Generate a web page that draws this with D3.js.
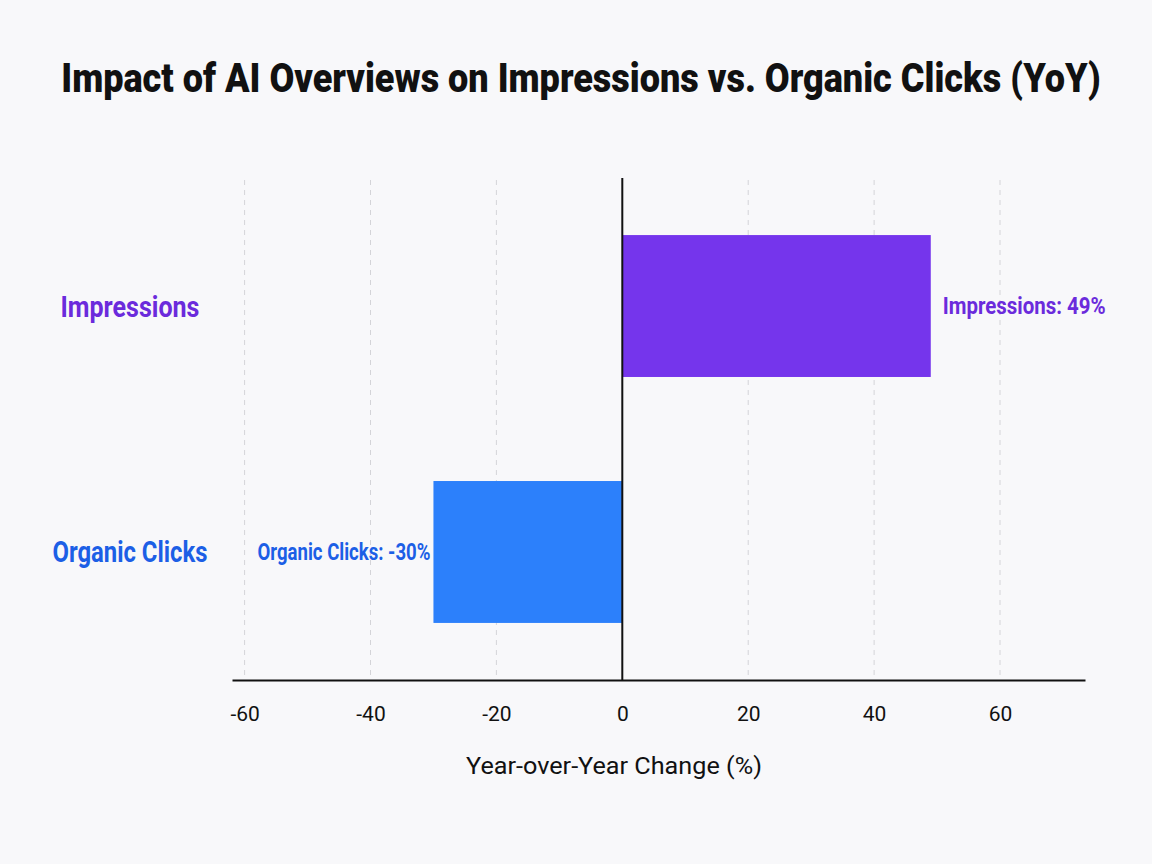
<!DOCTYPE html>
<html lang="en">
<head>
<meta charset="UTF-8" />
<title>Impact of AI Overviews on Impressions vs. Organic Clicks (YoY)</title>
<script src="https://d3js.org/d3.v7.min.js"></script>
<style>
    body { margin: 0; background: #f8f8fa; font-family: Roboto, "Noto Sans", sans-serif; }
    svg { display: block; }
</style>
</head>
<body>
<div id="chart"></div>
<script>
    const categories = ["Impressions", "Organic Clicks"];
    const values = [49, -30];
    const ticks = [-60, -40, -20, 0, 20, 40, 60];
    const barColors = ["#7535ec", "#2c80fb"];
    const textColors = ["#6b2bdc", "#1c5fe6"];

    const W = 1152, H = 864;
    const svg = d3.select("#chart").append("svg")
        .attr("width", W).attr("height", H);

    svg.append("rect").attr("width", W).attr("height", H).attr("fill", "#f8f8fa");

    const x = d3.scaleLinear().domain([-62, 73.5]).range([232, 1085]);
    const y = d3.scaleBand().domain(categories).range([178, 680])
        .paddingInner(0.423).paddingOuter(0.232);

    // fit a text horizontally into a given width
    function fitWidth(sel, width) {
        sel.each(function () {
            const w = this.getComputedTextLength();
            const t = d3.select(this);
            const ax = +t.attr("x"), ay = +t.attr("y");
            t.attr("transform", `translate(${ax},${ay}) scale(${width / w},1) translate(${-ax},${-ay})`);
        });
    }

    // titre
    svg.append("text")
        .attr("x", 581).attr("y", 92)
        .attr("text-anchor", "middle")
        .style("font-size", "40px").style("font-weight", "900").style("fill", "#111")
        .text("Impact of AI Overviews on Impressions vs. Organic Clicks (YoY)")
        .call(fitWidth, 1040);

    // grille
    svg.append("g").selectAll("line")
        .data(ticks.filter(t => t !== 0))
        .join("line")
        .attr("x1", d => x(d)).attr("x2", d => x(d))
        .attr("y1", 180).attr("y2", 680)
        .attr("stroke", "#d4d4d8").attr("stroke-width", 1)
        .attr("stroke-dasharray", "5,5");

    // barres
    svg.append("g").selectAll("rect")
        .data(categories)
        .join("rect")
        .attr("x", (d, i) => Math.min(x(0), x(values[i])))
        .attr("y", d => y(d))
        .attr("width", (d, i) => Math.abs(x(values[i]) - x(0)))
        .attr("height", y.bandwidth())
        .attr("fill", (d, i) => barColors[i]);

    // ligne zéro
    svg.append("line")
        .attr("x1", x(0)).attr("x2", x(0))
        .attr("y1", 178).attr("y2", 680)
        .attr("stroke", "#111").attr("stroke-width", 2);

    // axe X
    const axis = svg.append("g")
        .attr("transform", "translate(0,680)")
        .call(d3.axisBottom(x).tickValues(ticks).tickSize(0).tickPadding(26)
            .tickFormat(d => String(d)));
    axis.select(".domain").attr("stroke", "#111").attr("stroke-width", 2);
    axis.selectAll("text")
        .style("font-family", "Roboto, sans-serif")
        .style("font-size", "21px").style("fill", "#111");

    svg.append("text")
        .attr("x", 614).attr("y", 774)
        .attr("text-anchor", "middle")
        .style("font-size", "23px").style("fill", "#111")
        .text("Year-over-Year Change (%)")
        .call(fitWidth, 296);

    // étiquettes des catégories
    svg.append("g").selectAll("text")
        .data(categories)
        .join("text")
        .attr("x", 130)
        .attr("y", d => y(d) + y.bandwidth() / 2)
        .attr("dy", "0.35em")
        .attr("text-anchor", "middle")
        .style("font-size", "30px").style("font-weight", "bold")
        .style("fill", (d, i) => textColors[i])
        .text(d => d)
        .each(function (d, i) { fitWidth(d3.select(this), i === 0 ? 139 : 155); });

    // étiquettes des valeurs
    svg.append("g").selectAll("text")
        .data(categories)
        .join("text")
        .attr("x", (d, i) => values[i] >= 0 ? x(values[i]) + 12 : x(values[i]) - 3)
        .attr("y", d => y(d) + y.bandwidth() / 2)
        .attr("dy", "0.35em")
        .attr("text-anchor", (d, i) => values[i] >= 0 ? "start" : "end")
        .style("font-size", "23px").style("font-weight", "bold")
        .style("fill", (d, i) => textColors[i])
        .text((d, i) => `${d}: ${values[i]}%`)
        .each(function (d, i) { fitWidth(d3.select(this), i === 0 ? 163 : 173); });
</script>
</body>
</html>
